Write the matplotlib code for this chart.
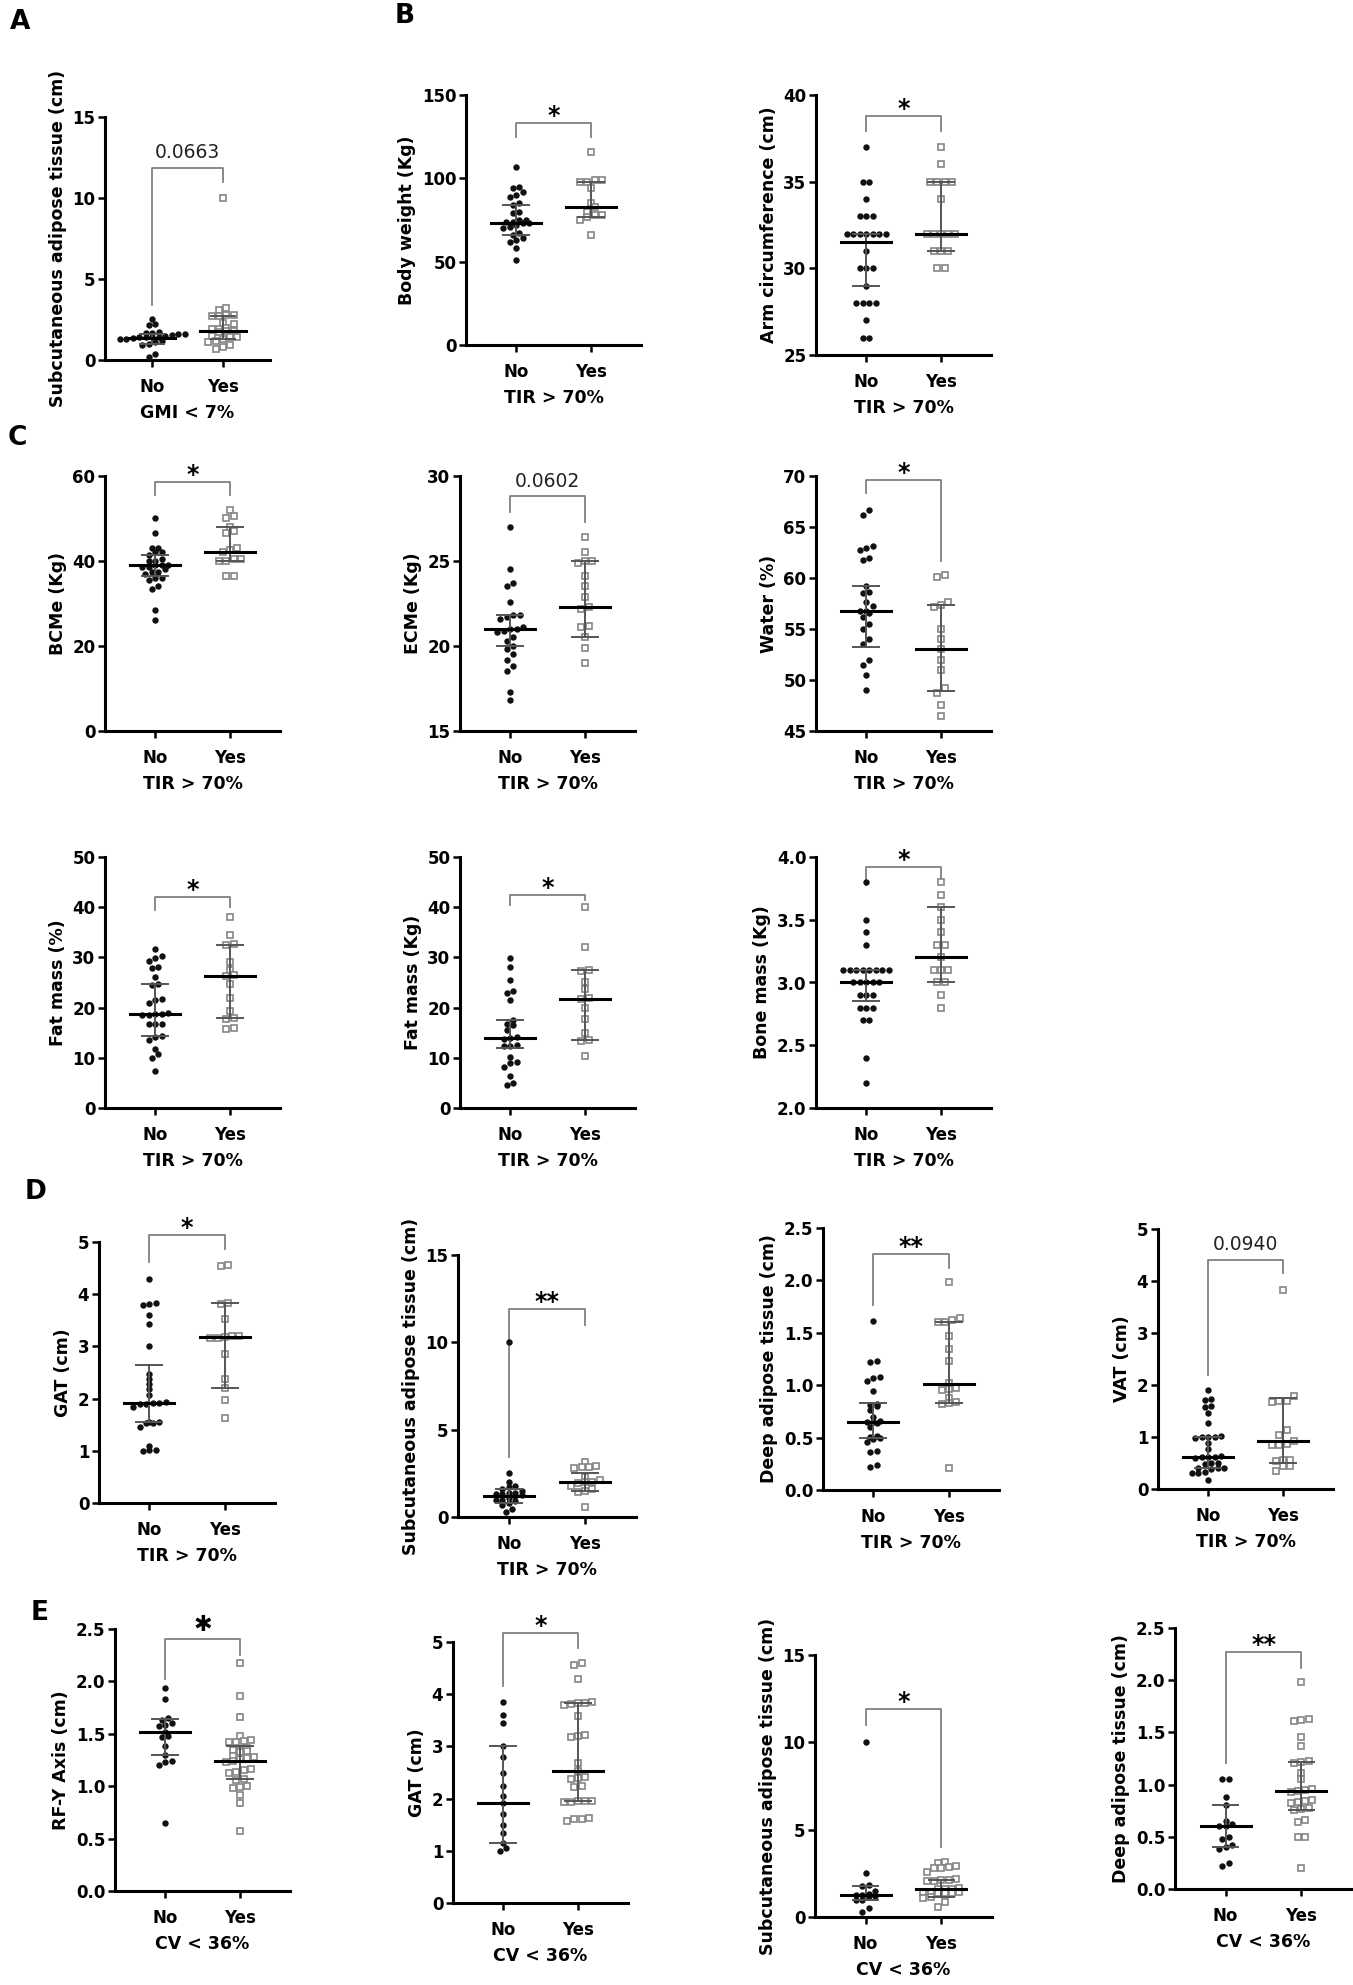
import numpy as np
import matplotlib
matplotlib.use("Agg")
import matplotlib.pyplot as plt
from matplotlib.ticker import FormatStrFormatter

plt.rcParams["font.family"] = ["DejaVu Sans"]
plt.rcParams["font.weight"] = "bold"
plt.rcParams["axes.labelweight"] = "bold"

# ---- data: (No group, Yes group), stats = [median, q1, q3] ----
gmi_sat_no = [2.5, 2.2, 2.15, 1.7, 1.65, 1.65, 1.6, 1.6, 1.55, 1.5, 1.45, 1.4, 1.4, 1.4,
              1.35, 1.3, 1.3, 1.2, 1.1, 1.0, 0.9, 0.4, 0.2]
gmi_sat_yes = [10.0, 3.2, 3.1, 2.8, 2.8, 2.7, 2.7, 2.3, 2.2, 2.0, 1.9, 1.9, 1.8, 1.8, 1.7,
               1.5, 1.4, 1.4, 1.3, 1.2, 1.1, 0.9, 0.8, 0.7]
gmi_sat_stats = [[1.35, 1.0, 1.6], [1.8, 1.3, 2.7]]

weight_no = [107, 95, 94, 92, 90, 89, 85, 84, 80, 79, 75, 75, 74, 74, 73, 73, 72, 71, 70,
             67, 66, 64, 63, 62, 58, 51]
weight_yes = [116, 99, 99, 98, 98, 94, 85, 83, 80, 78, 78, 77, 75, 66]
weight_stats = [[73, 66, 84], [83, 77, 98]]

arm_no = [37, 35, 35, 34, 33, 33, 33, 32, 32, 32, 32, 32, 32, 32, 31, 30, 30, 30, 29, 28,
          28, 28, 28, 27, 26, 26]
arm_yes = [37, 36, 35, 35, 35, 35, 34, 32, 32, 32, 32, 32, 31, 31, 31, 30, 30]
arm_stats = [[31.5, 29, 32], [32, 31, 35]]

bcme_no = [50, 46.5, 43, 43, 42, 42, 41.5, 40.5, 40, 40, 39, 39, 39, 38.5, 38.5, 38, 37.5,
           37.5, 37, 36, 36, 35.5, 34, 33.5, 28.5, 26]
bcme_yes = [52, 50.5, 50, 48, 47, 46.5, 43, 42.5, 42, 40.5, 40.5, 40, 40, 36.5, 36.5]
bcme_stats = [[39, 36.5, 41.5], [42, 40, 48]]

ecme_no = [27, 24.5, 23.7, 23.5, 22.6, 21.8, 21.8, 21.7, 21.6, 21.1, 21.0, 21.0, 20.9, 20.8,
           20.5, 20.3, 20.0, 19.8, 19.5, 19.2, 18.8, 18.5, 17.3, 16.8]
ecme_yes = [26.4, 25.5, 25.0, 25.0, 24.9, 24.1, 23.5, 22.9, 22.3, 22.2, 21.2, 21.1, 20.5,
            19.9, 19.0]
ecme_stats = [[21.0, 20.0, 21.8], [22.3, 20.5, 25.0]]

water_no = [66.7, 66.2, 63.1, 62.9, 62.7, 62.0, 61.8, 59.2, 58.6, 58.5, 57.6, 57.3, 56.8,
            56.8, 56.6, 56.2, 55.5, 55.0, 54.0, 53.5, 52.0, 51.5, 50.5, 49.0]
water_yes = [60.3, 60.1, 57.6, 57.4, 57.2, 55.0, 54.0, 53.0, 52.0, 51.0, 49.2, 48.7, 47.5, 46.5]
water_stats = [[56.8, 53.2, 59.2], [53.0, 48.9, 57.4]]

fat_pct_no = [31.6, 30.2, 29.8, 29.3, 28.0, 27.8, 26.0, 24.7, 24.5, 21.7, 21.5, 21.0, 19.0,
              18.8, 18.7, 18.6, 18.5, 16.8, 16.8, 16.7, 14.3, 14.2, 13.5, 11.8, 10.8, 9.9, 7.4]
fat_pct_yes = [38.0, 34.4, 32.6, 32.4, 29.0, 27.4, 26.5, 26.2, 24.7, 22.0, 19.4, 18.0, 17.8,
               16.0, 15.8]
fat_pct_stats = [[18.8, 14.3, 24.7], [26.2, 18.0, 32.5]]

fat_kg_no = [29.9, 28.1, 25.5, 23.3, 23.0, 21.5, 17.5, 16.7, 16.5, 15.5, 14.2, 14.0, 13.8,
             12.5, 12.4, 12.3, 10.2, 9.2, 9.0, 8.2, 6.3, 4.9, 4.6]
fat_kg_yes = [40, 32, 27.5, 27.3, 25, 23.7, 22, 21.7, 20, 17.8, 15, 13.5, 13.3, 10.3]
fat_kg_stats = [[14.0, 12.0, 17.5], [21.7, 13.5, 27.4]]

bone_no = [3.8, 3.5, 3.4, 3.3, 3.1, 3.1, 3.1, 3.1, 3.1, 3.1, 3.1, 3.1, 3.0, 3.0, 3.0, 3.0,
           3.0, 2.9, 2.9, 2.9, 2.8, 2.8, 2.8, 2.7, 2.7, 2.4, 2.2]
bone_yes = [3.8, 3.7, 3.6, 3.5, 3.4, 3.3, 3.3, 3.2, 3.1, 3.1, 3.1, 3.0, 3.0, 2.9, 2.8]
bone_stats = [[3.0, 2.85, 3.1], [3.2, 3.0, 3.6]]

gat_tir_no = [4.3, 3.83, 3.82, 3.8, 3.6, 3.42, 3.0, 2.48, 2.38, 2.28, 2.18, 2.06, 1.93, 1.92,
              1.91, 1.9, 1.9, 1.84, 1.56, 1.55, 1.54, 1.53, 1.46, 1.1, 1.02, 1.01, 1.0]
gat_tir_yes = [4.56, 4.54, 3.84, 3.82, 3.53, 3.2, 3.19, 3.18, 3.17, 3.16, 2.86, 2.38, 2.2,
               1.97, 1.62]
gat_tir_stats = [[1.92, 1.55, 2.65], [3.18, 2.2, 3.83]]

sat_tir_no = [10.0, 2.5, 2.0, 1.8, 1.7, 1.6, 1.5, 1.4, 1.4, 1.3, 1.3, 1.25, 1.2, 1.1, 1.0,
              1.0, 0.9, 0.8, 0.7, 0.45, 0.3]
sat_tir_yes = [3.15, 2.9, 2.87, 2.85, 2.8, 2.3, 2.1, 2.0, 2.0, 1.95, 1.8, 1.6, 1.5, 1.45, 0.6]
sat_tir_stats = [[1.2, 0.8, 1.6], [2.0, 1.5, 2.5]]

deep_tir_no = [1.61, 1.23, 1.22, 1.08, 1.07, 1.04, 0.94, 0.82, 0.81, 0.8, 0.76, 0.7, 0.66,
               0.65, 0.65, 0.64, 0.6, 0.52, 0.51, 0.5, 0.49, 0.46, 0.37, 0.36, 0.24, 0.22]
deep_tir_yes = [1.98, 1.64, 1.62, 1.6, 1.6, 1.47, 1.35, 1.23, 1.02, 0.97, 0.96, 0.95, 0.88,
                0.84, 0.83, 0.82, 0.21]
deep_tir_stats = [[0.65, 0.5, 0.83], [1.01, 0.83, 1.6]]

vat_no = [1.91, 1.73, 1.71, 1.59, 1.57, 1.47, 1.27, 1.01, 1.0, 1.0, 1.0, 0.99, 0.88, 0.76,
          0.63, 0.62, 0.62, 0.61, 0.6, 0.5, 0.5, 0.49, 0.41, 0.4, 0.4, 0.39, 0.32, 0.31, 0.3,
          0.18]
vat_yes = [3.82, 1.78, 1.7, 1.69, 1.68, 1.14, 1.04, 0.92, 0.86, 0.85, 0.84, 0.56, 0.55, 0.54,
           0.45, 0.44, 0.34]
vat_stats = [[0.61, 0.4, 1.0], [0.92, 0.5, 1.75]]

rfy_no = [1.94, 1.83, 1.65, 1.63, 1.6, 1.58, 1.57, 1.52, 1.48, 1.47, 1.38, 1.3, 1.24, 1.23,
          1.2, 0.65]
rfy_yes = [2.18, 1.86, 1.66, 1.48, 1.44, 1.43, 1.42, 1.42, 1.36, 1.35, 1.35, 1.34, 1.33, 1.29,
           1.28, 1.27, 1.26, 1.24, 1.23, 1.16, 1.15, 1.14, 1.13, 1.07, 1.06, 1.0, 0.99, 0.98,
           0.92, 0.84, 0.57]
rfy_stats = [[1.52, 1.3, 1.64], [1.24, 1.07, 1.38]]

gat_cv_no = [3.85, 3.6, 3.45, 3.0, 2.8, 2.5, 2.25, 2.05, 1.92, 1.7, 1.5, 1.35, 1.15, 1.05, 1.0]
gat_cv_yes = [4.6, 4.56, 4.3, 3.85, 3.84, 3.83, 3.82, 3.8, 3.58, 3.22, 3.2, 3.18, 2.68, 2.52,
              2.42, 2.4, 2.38, 2.25, 2.22, 1.96, 1.95, 1.95, 1.94, 1.93, 1.62, 1.6, 1.6, 1.58]
gat_cv_stats = [[1.92, 1.15, 3.0], [2.52, 1.95, 3.83]]

sat_cv_no = [10.0, 2.5, 1.85, 1.8, 1.5, 1.3, 1.28, 1.25, 1.22, 1.2, 1.0, 0.95, 0.5, 0.3]
sat_cv_yes = [3.15, 3.1, 2.9, 2.85, 2.8, 2.8, 2.6, 2.15, 2.1, 2.1, 2.05, 2.05, 1.65, 1.63,
              1.62, 1.6, 1.45, 1.43, 1.42, 1.4, 1.4, 1.38, 1.15, 1.1, 0.86, 0.57]
sat_cv_stats = [[1.25, 0.95, 1.8], [1.62, 1.15, 2.1]]

deep_cv_no = [1.05, 1.05, 0.88, 0.8, 0.65, 0.62, 0.6, 0.6, 0.5, 0.48, 0.42, 0.4, 0.38, 0.25,
              0.22]
deep_cv_yes = [1.98, 1.63, 1.62, 1.61, 1.46, 1.37, 1.23, 1.22, 1.21, 1.11, 1.05, 0.96, 0.95,
               0.94, 0.93, 0.85, 0.84, 0.83, 0.82, 0.78, 0.77, 0.76, 0.66, 0.64, 0.5, 0.5, 0.2]
deep_cv_stats = [[0.6, 0.4, 0.8], [0.94, 0.76, 1.22]]

# panel setup: box = (left, top, bottom, width) in pixels; bracket = (text, top, left end, right end)
panels = [
    dict(no=gmi_sat_no, yes=gmi_sat_yes, st=gmi_sat_stats, yl="Subcutaneous adipose tissue (cm)",
         xl="GMI < 7%", lim=(0, 15, 5), fmt="%d", box=(105, 117, 360, 165),
         br=("0.0663", 11.85, 3.4, 11.0)),
    dict(no=weight_no, yes=weight_yes, st=weight_stats, yl="Body weight (Kg)",
         xl="TIR > 70%", lim=(0, 150, 50), fmt="%d", box=(466, 95, 345, 175),
         br=("*", 133, 125, 125)),
    dict(no=arm_no, yes=arm_yes, st=arm_stats, yl="Arm circumference (cm)",
         xl="TIR > 70%", lim=(25, 40, 5), fmt="%d", box=(816, 95, 355, 175),
         br=("*", 38.8, 37.95, 37.95)),
    dict(no=bcme_no, yes=bcme_yes, st=bcme_stats, yl="BCMe (Kg)",
         xl="TIR > 70%", lim=(0, 60, 20), fmt="%d", box=(105, 476, 731, 175),
         br=("*", 58.6, 55.5, 55.5)),
    dict(no=ecme_no, yes=ecme_yes, st=ecme_stats, yl="ECMe (Kg)",
         xl="TIR > 70%", lim=(15, 30, 5), fmt="%d", box=(460, 476, 731, 175),
         br=("0.0602", 28.8, 27.9, 27.3)),
    dict(no=water_no, yes=water_yes, st=water_stats, yl="Water (%)",
         xl="TIR > 70%", lim=(45, 70, 5), fmt="%d", box=(816, 476, 731, 175),
         br=("*", 69.6, 68.3, 61.7)),
    dict(no=fat_pct_no, yes=fat_pct_yes, st=fat_pct_stats, yl="Fat mass (%)",
         xl="TIR > 70%", lim=(0, 50, 10), fmt="%d", box=(105, 857, 1108, 175),
         br=("*", 42, 39.5, 40.0)),
    dict(no=fat_kg_no, yes=fat_kg_yes, st=fat_kg_stats, yl="Fat mass (Kg)",
         xl="TIR > 70%", lim=(0, 50, 10), fmt="%d", box=(460, 857, 1108, 175),
         br=("*", 42.5, 40.5, 41.5)),
    dict(no=bone_no, yes=bone_yes, st=bone_stats, yl="Bone mass (Kg)",
         xl="TIR > 70%", lim=(2, 4, 0.5), fmt="%.1f", box=(816, 857, 1108, 175),
         br=("*", 3.92, 3.78, 3.82)),
    dict(no=gat_tir_no, yes=gat_tir_yes, st=gat_tir_stats, yl="GAT (cm)",
         xl="TIR > 70%", lim=(0, 5, 1), fmt="%d", box=(99, 1242, 1503, 176),
         br=("*", 5.14, 4.62, 4.87)),
    dict(no=sat_tir_no, yes=sat_tir_yes, st=sat_tir_stats, yl="Subcutaneous adipose tissue (cm)",
         xl="TIR > 70%", lim=(0, 15, 5), fmt="%d", box=(458, 1255, 1517, 178),
         br=("**", 11.9, 3.43, 11.0)),
    dict(no=deep_tir_no, yes=deep_tir_yes, st=deep_tir_stats, yl="Deep adipose tissue (cm)",
         xl="TIR > 70%", lim=(0, 2.5, 0.5), fmt="%.1f", box=(823, 1228, 1490, 176),
         br=("**", 2.25, 1.77, 2.12)),
    dict(no=vat_no, yes=vat_yes, st=vat_stats, yl="VAT (cm)",
         xl="TIR > 70%", lim=(0, 5, 1), fmt="%d", box=(1158, 1229, 1489, 175),
         br=("0.0940", 4.41, 2.2, 4.15)),
    dict(no=rfy_no, yes=rfy_yes, st=rfy_stats, yl="RF-Y Axis (cm)",
         xl="CV < 36%", lim=(0, 2.5, 0.5), fmt="%.1f", box=(115, 1629, 1891, 175),
         br=("\u2731", 2.4, 2.02, 2.25)),
    dict(no=gat_cv_no, yes=gat_cv_yes, st=gat_cv_stats, yl="GAT (cm)",
         xl="CV < 36%", lim=(0, 5, 1), fmt="%d", box=(453, 1642, 1903, 175),
         br=("*", 5.17, 4.15, 4.88)),
    dict(no=sat_cv_no, yes=sat_cv_yes, st=sat_cv_stats, yl="Subcutaneous adipose tissue (cm)",
         xl="CV < 36%", lim=(0, 15, 5), fmt="%d", box=(815, 1655, 1917, 177),
         br=("*", 11.9, 11.0, 4.0)),
    dict(no=deep_cv_no, yes=deep_cv_yes, st=deep_cv_stats, yl="Deep adipose tissue (cm)",
         xl="CV < 36%", lim=(0, 2.5, 0.5), fmt="%.1f", box=(1175, 1628, 1889, 177),
         br=("**", 2.27, 1.21, 2.12)),
]

letters = [("A", 20, 22), ("B", 405, 16), ("C", 17, 438), ("D", 36, 1192), ("E", 40, 1613)]

W, H = 1353, 1985
fig = plt.figure(figsize=(W / 100, H / 100), dpi=100)


def swarm(ax, xc, vals, d):
    # spread tied / near values sideways in rows like a dot plot
    vals = np.asarray(vals, float)
    ypx = ax.transData.transform(np.column_stack([np.zeros(len(vals)), vals]))[:, 1]
    ppu = ax.transData.transform([[1, 0]])[0, 0] - ax.transData.transform([[0, 0]])[0, 0]
    order = np.argsort(ypx)
    xs = np.zeros(len(vals))
    i = 0
    while i < len(order):
        j = i
        while j + 1 < len(order) and ypx[order[j + 1]] - ypx[order[i]] < d * 0.8:
            j += 1
        grp = order[i:j + 1]
        for k, idx in enumerate(grp):
            xs[idx] = (k - (len(grp) - 1) / 2) * d
        i = j + 1
    return xc + xs / ppu


for p in panels:
    left, top, bottom, width = p["box"]
    ax = fig.add_axes([left / W, 1 - bottom / H, width / W, (bottom - top) / H])
    lo, hi, step = p["lim"]
    ax.set_xlim(-0.667, 1.667)
    ax.set_ylim(lo, hi)
    ax.set_yticks(np.linspace(lo, hi, int(round((hi - lo) / step)) + 1))
    ax.yaxis.set_major_formatter(FormatStrFormatter(p["fmt"]))
    ax.set_xticks([0, 1], ["No", "Yes"])
    for s in ("top", "right"):
        ax.spines[s].set_visible(False)
    for s in ("left", "bottom"):
        ax.spines[s].set_linewidth(2.2)
    ax.tick_params(axis="y", length=5, width=1.8, labelsize=12, pad=2)
    ax.tick_params(axis="x", length=5, width=1.8, labelsize=12, pad=8)
    ax.set_ylabel(p["yl"], fontsize=12.5, labelpad=4)
    ax.set_xlabel(p["xl"], fontsize=12.5, labelpad=6)

    ax.plot(swarm(ax, 0, p["no"], 6.5), p["no"], "o", ms=4.6, color="#111111",
            mew=0, zorder=3, clip_on=False)
    ax.plot(swarm(ax, 1, p["yes"], 7.2), p["yes"], "s", ms=4.8, mfc="white",
            mec="#858585", mew=1.2, zorder=3, clip_on=False)

    for xc, (m, q1, q3) in zip((0, 1), p["st"]):
        ax.plot([xc, xc], [q1, q3], color="#555555", lw=1.4, zorder=4)
        ax.plot([xc - 0.17, xc + 0.17], [q1, q1], color="#555555", lw=1.4, zorder=4)
        ax.plot([xc - 0.17, xc + 0.17], [q3, q3], color="#555555", lw=1.4, zorder=4)
        ax.plot([xc - 0.33, xc + 0.33], [m, m], color="black", lw=2.2, zorder=5)

    txt, btop, bl, br = p["br"]
    ax.plot([0, 0, 1, 1], [bl, btop, btop, br], color="#808080", lw=1.3,
            clip_on=False, zorder=2)
    if txt[0].isdigit():
        ax.annotate(txt, (0.5, btop), xytext=(0, 7), textcoords="offset points",
                    ha="center", va="baseline", fontsize=13.5, fontweight="normal",
                    color="#222222", annotation_clip=False)
    elif txt == "\u2731":
        ax.annotate(txt, (0.5, btop), xytext=(0, 6), textcoords="offset points",
                    ha="center", va="baseline", fontsize=16, color="black",
                    annotation_clip=False)
    else:
        ax.annotate(txt, (0.5, btop), xytext=(0, 0), textcoords="offset points",
                    ha="center", va="baseline", fontsize=17, color="black",
                    annotation_clip=False)

for lab, x, y in letters:
    fig.text(x / W, 1 - y / H, lab, fontsize=19, fontweight="bold", ha="center", va="center")

fig.savefig("out.png", dpi=100, facecolor="white")
